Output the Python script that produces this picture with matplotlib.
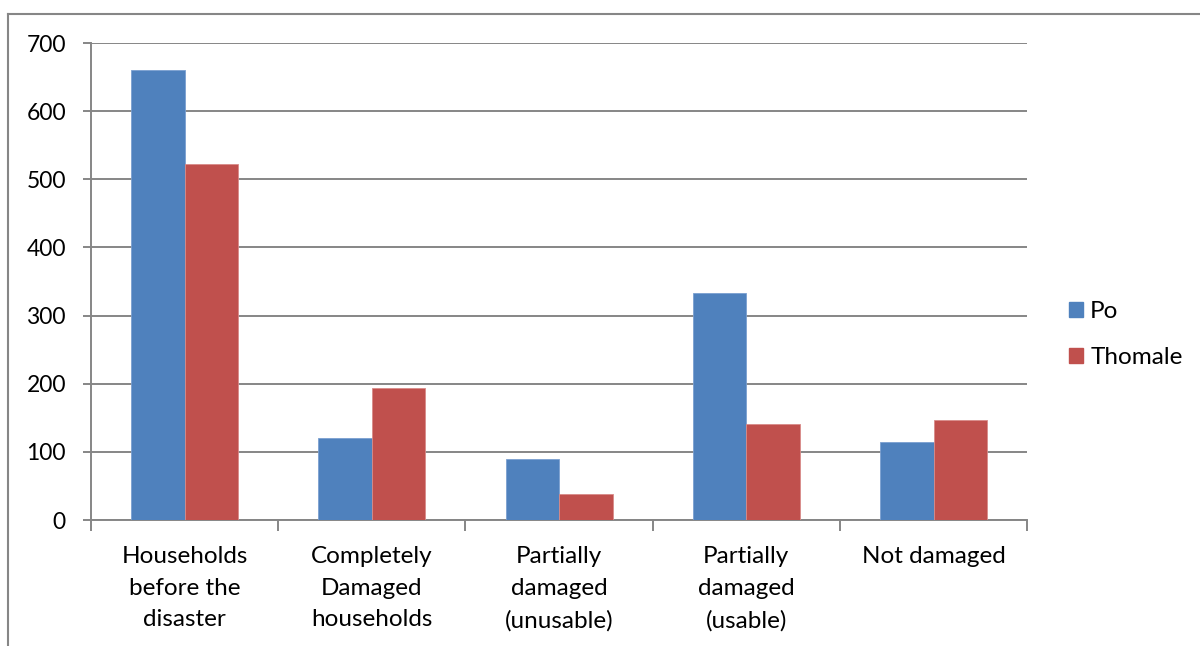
import numpy as np
import matplotlib.pyplot as plt
from matplotlib.lines import Line2D
from matplotlib.patches import Patch

plt.rcParams['font.family'] = ['Lato', 'DejaVu Sans']

categories = ['Households\nbefore the\ndisaster', 'Completely\nDamaged\nhouseholds',
              'Partially\ndamaged\n(unusable)', 'Partially\ndamaged\n(usable)', 'Not damaged']
po = [660, 120, 89, 333, 115]
thomale = [522, 194, 38, 141, 147]
yticks = [0, 100, 200, 300, 400, 500, 600, 700]

blue = '#4f81bd'
red = '#c0504d'
grid = '#868686'

fig = plt.figure(figsize=(12, 6.46), dpi=100)
ax = fig.add_axes([0.0758, 0.195, 0.7802, 0.7384])

x = np.arange(len(categories))
w = 1 / 3.5
ax.bar(x - w / 2, po, w, color=blue, edgecolor='#7a9fd0', linewidth=0.6, zorder=3)
ax.bar(x + w / 2, thomale, w, color=red, edgecolor='#d98b89', linewidth=0.6, zorder=3)

ax.set_xlim(-0.5, len(categories) - 0.5)
ax.set_ylim(0, 700)
ax.set_yticks(yticks)
ax.yaxis.grid(True, color=grid, linewidth=1.4, zorder=0)
ax.set_xticks(np.arange(len(categories) + 1) - 0.5)
ax.set_xticklabels([])
ax.tick_params(axis='x', direction='out', length=8, color=grid, width=1.4)
ax.tick_params(axis='y', direction='out', length=6, color=grid, width=1.4,
               labelsize=16.5, pad=12)
for s in ['top', 'right']:
    ax.spines[s].set_visible(False)
for s in ['left', 'bottom']:
    ax.spines[s].set_color(grid)
    ax.spines[s].set_linewidth(1.4)

for i, lab in enumerate(categories):
    ax.text(i, -38, lab, ha='center', va='top', fontsize=17.5,
            linespacing=1.63, transform=ax.transData)

handles = [Patch(color=blue), Patch(color=red)]
fig.legend(handles, ['Po', 'Thomale'], loc='center left',
           bbox_to_anchor=(1069 / 1200, 0.482), frameon=False, fontsize=17.5,
           handlelength=0.57, handleheight=0.57, handletextpad=0.3,
           labelspacing=1.05, borderpad=0, borderaxespad=0)

# outer chart frame
fig.add_artist(Line2D([8 / 1200, 1], [1 - 14 / 646] * 2, color=grid, linewidth=1.5))
fig.add_artist(Line2D([8 / 1200] * 2, [0, 1 - 14 / 646], color=grid, linewidth=1.5))

fig.savefig('out.png', dpi=100)
